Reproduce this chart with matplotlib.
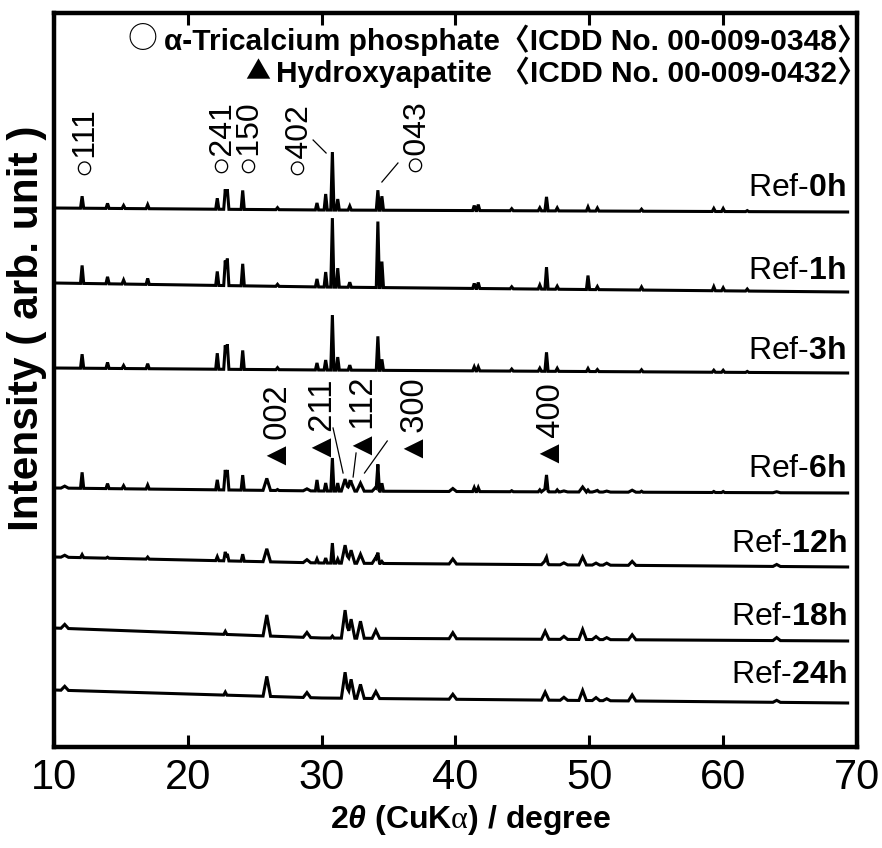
import numpy as np
import matplotlib
matplotlib.use("Agg")
import matplotlib.pyplot as plt

plt.rcParams['font.family'] = ['Liberation Sans', 'DejaVu Sans', 'Noto Sans CJK JP']
plt.rcParams['mathtext.fontset'] = 'custom'
plt.rcParams['mathtext.rm'] = 'Liberation Serif'
plt.rcParams['mathtext.it'] = 'Liberation Sans:italic:bold'
plt.rcParams['mathtext.bf'] = 'Liberation Sans:bold'

# ---------------- data ----------------
samples = ['0h', '1h', '3h', '6h', '12h', '18h', '24h']

# alpha-TCP reflections (2theta, deg)
tcp_pos = [12.1, 14.0, 15.2, 17.0, 22.2, 22.8, 22.95, 24.1, 26.7, 29.65, 30.3, 30.8,
           31.2, 32.1, 34.2, 34.5, 41.4, 41.7, 44.2, 46.3, 46.8, 47.6, 49.9, 50.6,
           53.9, 59.3, 60.0, 61.8]
tcp_0h = [12, 5, 3, 4, 11, 20, 20, 19, 2, 7, 16, 58, 11, 4, 20, 14, 5, 6, 2, 3, 14, 3, 4, 3, 2, 3, 3, 1]
tcp_1h = [18, 7, 4, 6, 14, 25, 27, 22, 2, 8, 15, 69, 19, 5, 66, 26, 5, 6, 2, 4, 22, 3, 14, 3, 3, 4, 3, 2]
tcp_3h = [14, 6, 3, 5, 16, 24, 25, 19, 2, 7, 10, 55, 13, 5, 34, 11, 4, 4, 2, 3, 19, 3, 3, 2, 2, 2, 2, 1]
tcp_6h = [16, 5, 3, 4, 10, 20, 20, 15, 1, 11, 8, 33, 8, 4, 25, 8, 4, 4, 1, 2, 15, 2, 2, 1, 1, 1, 1, 0]
tcp_12h = [3, 1, 0, 2, 4, 9, 7, 7, 0, 4, 5, 20, 4, 0, 8, 2, 0, 0, 0, 0, 5, 0, 0, 0, 0, 0, 0, 0]
tcp_18h = [0, 0, 0, 0, 0, 3, 0, 0, 0, 0, 0, 2, 0, 0, 0, 0, 0, 0, 0, 0, 0, 0, 0, 0, 0, 0, 0, 0]
tcp_24h = [0, 0, 0, 0, 0, 3, 0, 0, 0, 0, 0, 0, 0, 0, 0, 0, 0, 0, 0, 0, 0, 0, 0, 0, 0, 0, 0, 0]

# hydroxyapatite reflections (2theta, deg)
ha_pos = [10.8, 25.9, 28.9, 31.75, 32.2, 32.9, 34.05, 39.8, 46.7, 48.1, 49.5, 50.5, 51.3, 53.2, 64.0]
ha_0h = [0] * 15
ha_1h = [0] * 15
ha_3h = [0] * 15
ha_6h = [2, 12, 2, 12, 9, 8, 4, 3, 3, 1, 5, 1, 1, 2, 1]
ha_12h = [2, 13, 3, 18, 13, 9, 6, 5, 4, 2, 8, 2, 2, 4, 2]
ha_18h = [4, 21, 5, 28, 19, 17, 8, 6, 8, 3, 10, 3, 2, 5, 3]
ha_24h = [4, 20, 5, 26, 19, 14, 7, 5, 8, 3, 10, 3, 2, 6, 2]

# background level of each pattern at three angles
bg_x = [10.0, 30.0, 69.3]
bg_0h = [539, 537, 535]
bg_1h = [464, 460, 455]
bg_3h = [379, 377, 374]
bg_6h = [259, 256, 254]
bg_12h = [190, 184, 180]
bg_18h = [119, 109, 106]
bg_24h = [57, 49, 44]

tcp_sets = [tcp_0h, tcp_1h, tcp_3h, tcp_6h, tcp_12h, tcp_18h, tcp_24h]
ha_sets = [ha_0h, ha_1h, ha_3h, ha_6h, ha_12h, ha_18h, ha_24h]
bg_sets = [bg_0h, bg_1h, bg_3h, bg_6h, bg_12h, bg_18h, bg_24h]

# peak labels
tcp_labels = ['111', '241', '150', '402', '043']
ha_labels = ['002', '211', '112', '300', '400']

W_TCP = 0.12
W_HA = 0.28


def pattern(bg, th, hh):
    xs = [bg_x[0], bg_x[-1]] + list(bg_x)
    peaks = [(p, h, W_TCP) for p, h in zip(tcp_pos, th) if h > 0]
    peaks += [(p, h, W_HA) for p, h in zip(ha_pos, hh) if h > 0]
    for p, h, w in peaks:
        xs += [p - w, p, p + w]
    xs = np.unique(np.array(xs))
    xs = xs[(xs >= bg_x[0]) & (xs <= bg_x[-1])]
    y = np.interp(xs, bg_x, bg)
    for p, h, w in peaks:
        y = y + h * np.clip(1 - np.abs(xs - p) / w, 0, None)
    return xs, y


fig = plt.figure(figsize=(8.82, 8.48), dpi=100)
ax = fig.add_axes([54 / 882, 1 - 747 / 848, (857 - 54) / 882, (747 - 13) / 848])
ax.set_xlim(10, 70)
ax.set_ylim(0, 734)

for name, th, hh, bg in zip(samples, tcp_sets, ha_sets, bg_sets):
    xs, ys = pattern(bg, th, hh)
    ax.plot(xs, ys, color='black', lw=2.2, solid_joinstyle='miter')

# sample labels
label_y = [559, 476, 396, 278, 203, 130, 72]
for name, ly in zip(samples, label_y):
    ax.text(69.2, ly, 'Ref-$\\mathbf{%s}$' % name, ha='right', va='center', fontsize=23)

# alpha-TCP peak labels
tcp_lab_x = [12.3, 22.5, 24.55, 28.2, 37.0]
tcp_lab_y = [572, 574, 574, 572, 575]
for lab, lx, ly in zip(tcp_labels, tcp_lab_x, tcp_lab_y):
    ax.text(lx, ly, '○' + lab, rotation=90, ha='center', va='bottom', fontsize=23)

ha_lab_x = [26.3, 29.65, 32.7, 36.5, 46.7]
ha_lab_y = [282, 290, 292, 289, 284]
for lab, lx, ly in zip(ha_labels, ha_lab_x, ha_lab_y):
    ax.text(lx, ly, '▲' + lab, rotation=90, ha='center', va='bottom', fontsize=23.5)

# leader lines
leaders = [((29.36, 30.33), (607, 594)), ((35.7, 34.5), (584, 565)),
           ((30.85, 31.6), (319, 274)), ((32.57, 32.35), (294, 270)),
           ((34.9, 33.2), (306, 274))]
for lx, ly in leaders:
    ax.plot(lx, ly, color='black', lw=0.9)

# legend text
fam = ['Liberation Sans', 'Noto Sans CJK JP']
t1 = fig.text(867 / 882, 1 - 40 / 848, 'α-Tricalcium phosphate〈ICDD No. 00-009-0348〉',
              ha='right', va='center', fontsize=21.5, fontweight='bold', family=fam)
t2 = fig.text(867 / 882, 1 - 72 / 848, 'Hydroxyapatite 〈ICDD No. 00-009-0432〉',
              ha='right', va='center', fontsize=21.5, fontweight='bold', family=fam)
ax.annotate('○', xy=(0, 0.5), xycoords=t1, xytext=(-5, 0), textcoords='offset points',
            ha='right', va='center', fontsize=21.5, family=['Noto Sans CJK JP'])
ax.annotate('▲', xy=(0, 0.5), xycoords=t2, xytext=(-4, 0), textcoords='offset points',
            ha='right', va='center', fontsize=18, family=['Noto Sans CJK JP'])

# axes styling
ax.set_xticks([10, 20, 30, 40, 50, 60, 70])
ax.set_yticks([])
ax.tick_params(axis='x', direction='in', length=8.5, width=2.2, top=True, labelsize=30, pad=8)
for s in ax.spines.values():
    s.set_linewidth(3.2)

fig.text(470 / 882, 1 - 820 / 848, '2$\\mathit{\\theta}$ (CuK$\\mathrm{\\alpha}$) / degree',
         ha='center', va='center', fontsize=23, fontweight='bold')
fig.text(27 / 882, 1 - 328 / 848, 'Intensity ( arb. unit )', rotation=90, ha='center',
         va='center', fontsize=30.5, fontweight='bold')

fig.savefig('out.png', dpi=100)
